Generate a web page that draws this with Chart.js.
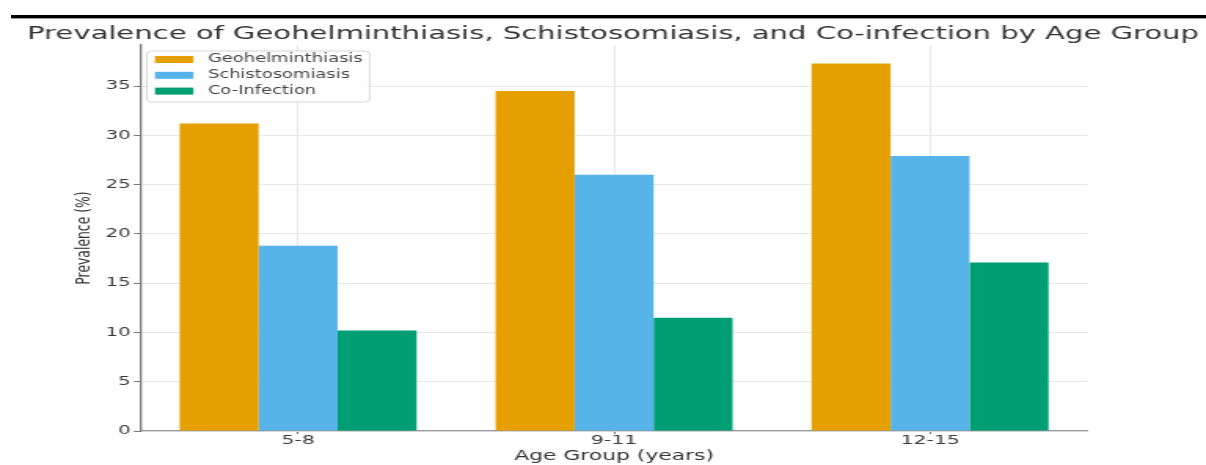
<!DOCTYPE html>
<html>
<head>
<meta charset="utf-8">
<script src="https://cdn.jsdelivr.net/npm/chart.js@4.4.1/dist/chart.umd.min.js"></script>
<style>
  html, body { margin: 0; padding: 0; background: #fff; }
  body { width: 1206px; height: 465px; position: relative; overflow: hidden; }
  /* figure is drawn narrow and stretched sideways */
  #wrap { position: absolute; left: 0; top: 0; width: 768px; height: 465px; transform: scaleX(1.5703); transform-origin: 0 0; }
  #rule { position: absolute; left: 11px; right: 0; top: 15px; height: 3px; background: #000; border-bottom: 1px solid #9a9a9a; }
</style>
</head>
<body>
<div id="wrap"><canvas id="chart" width="768" height="465"></canvas></div>
<div id="rule"></div>
<script>
const ageGroups = ['5-8', '9-11', '12-15'];
const geohelminthiasis = [31.2, 34.5, 37.3];
const schistosomiasis = [18.8, 26.0, 27.9];
const coInfection = [10.2, 11.5, 17.1];
const yTicks = [0, 5, 10, 15, 20, 25, 30, 35];

const titleText = 'Prevalence of Geohelminthiasis, Schistosomiasis, and Co-infection by Age Group';
const yMax = Math.max(...geohelminthiasis) * 1.05;

Chart.defaults.font.family = '"DejaVu Sans", sans-serif';

// title + framed legend in the upper left of the plot
const decorations = {
  id: 'decorations',
  afterDraw(chart) {
    const ctx = chart.ctx;
    const area = chart.chartArea;
    ctx.save();

    ctx.font = '18.5px "DejaVu Sans"';
    ctx.fillStyle = '#333';
    ctx.textAlign = 'center';
    ctx.textBaseline = 'middle';
    ctx.fillText(titleText, 390.4, 34.5);

    const boxX = area.left + 4.2, boxY = area.top + 6;
    const boxW = 142, boxH = 51;
    ctx.beginPath();
    ctx.roundRect(boxX, boxY, boxW, boxH, 3);
    ctx.fillStyle = 'rgba(255,255,255,0.8)';
    ctx.fill();
    ctx.strokeStyle = '#d6d6d6';
    ctx.lineWidth = 1;
    ctx.stroke();

    ctx.font = '11.4px "DejaVu Sans"';
    ctx.textAlign = 'left';
    chart.data.datasets.forEach((ds, i) => {
      const cy = boxY + 8.5 + i * 15.8;
      ctx.fillStyle = ds.backgroundColor;
      ctx.fillRect(boxX + 5.3, cy - 3.5, 24.4, 7);
      ctx.fillStyle = '#444';
      ctx.fillText(ds.label, boxX + 39, cy);
    });
    ctx.restore();
  }
};

new Chart(document.getElementById('chart'), {
  type: 'bar',
  data: {
    labels: ageGroups,
    datasets: [
      { label: 'Geohelminthiasis', data: geohelminthiasis, backgroundColor: '#E69F00' },
      { label: 'Schistosomiasis', data: schistosomiasis, backgroundColor: '#56B4E9' },
      { label: 'Co-Infection', data: coInfection, backgroundColor: '#009E73' }
    ]
  },
  options: {
    responsive: false,
    animation: false,
    layout: { padding: { left: 0, right: 75.1, top: 45, bottom: 0 } },
    datasets: { bar: { barPercentage: 1, categoryPercentage: 0.75 } },
    plugins: {
      legend: { display: false },
      title: { display: false },
      tooltip: { enabled: false }
    },
    scales: {
      x: {
        offset: true,
        grid: { offset: false, color: '#e8e8e8', tickLength: 3, tickColor: '#777' },
        border: { color: '#9a9a9a', width: 1.3 },
        ticks: { color: '#3a3a3a', font: { size: 13, lineHeight: 1 }, padding: 0 },
        title: { display: true, text: 'Age Group (years)', color: '#333', font: { size: 13.9 }, padding: { top: 0, bottom: 0 } },
        afterFit: axis => { axis.height = 34; }
      },
      y: {
        min: 0,
        max: yMax,
        afterBuildTicks: axis => { axis.ticks = yTicks.map(v => ({ value: v })); },
        grid: { color: '#e8e8e8', tickLength: 4, tickColor: '#777' },
        border: { color: '#7a7a7a', width: 1.3 },
        ticks: { color: '#3a3a3a', font: { size: 12.5 }, padding: 2 },
        title: { display: true, text: 'Prevalence (%)', color: '#333', font: { size: 12.4 }, padding: { top: 46.4, bottom: 0 } },
        afterFit: axis => { axis.width = 89.2; }
      }
    }
  },
  plugins: [decorations]
});
</script>
</body>
</html>
